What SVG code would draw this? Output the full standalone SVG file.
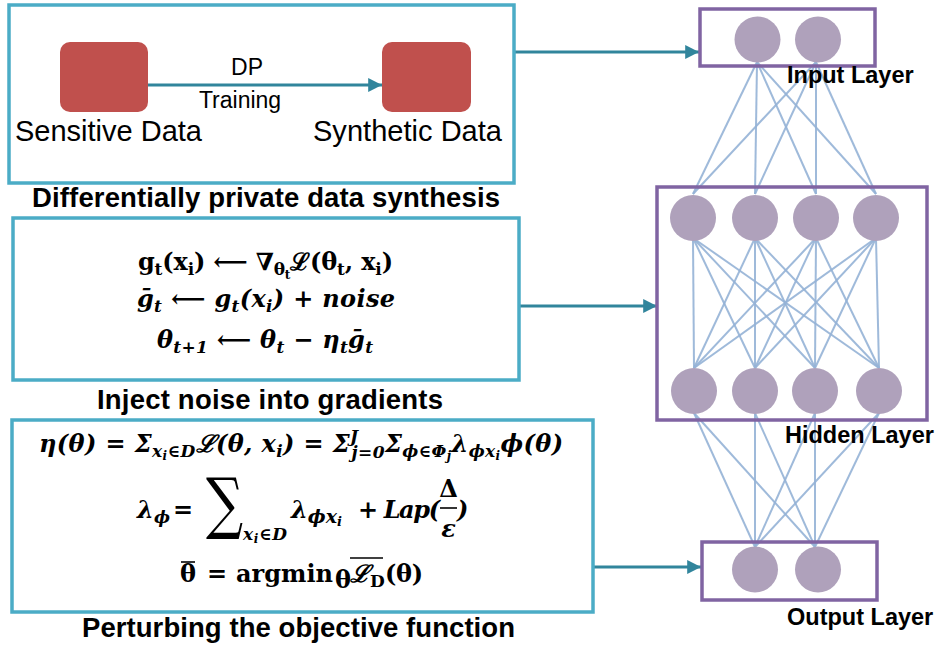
<svg xmlns="http://www.w3.org/2000/svg" width="938" height="646" viewBox="0 0 938 646">
<defs>
<marker id="ah" viewBox="0 0 10 10" refX="10" refY="5" markerWidth="5" markerHeight="4.6" markerUnits="strokeWidth" orient="auto">
<path d="M0,0 L10,5 L0,10 z" fill="#31859C"/>
</marker>
<style>
.panel{fill:none;stroke:#4BACC6;stroke-width:3.5}
.layer{fill:none;stroke:#8064A2;stroke-width:3.5}
.data{fill:#C0504D}
.neu{fill:#AFA1BB}
.edge{stroke:#95B3D7;stroke-width:2;opacity:0.9}
.conn{stroke:#31859C;stroke-width:3;fill:none}
.sans{font-family:"Liberation Sans",Arial,sans-serif;fill:#000}
.cap{font-family:"Liberation Sans",Arial,sans-serif;font-weight:bold;font-size:27.5px;fill:#000}
.lab{font-family:"Liberation Sans",Arial,sans-serif;font-weight:bold;font-size:23.5px;fill:#000}
.m{font-family:"DejaVu Serif",serif;font-weight:bold;font-size:24px;fill:#000}
.mi{font-family:"DejaVu Serif",serif;font-weight:bold;font-style:italic;font-size:24px;fill:#000}
.up{font-style:normal}
.sb{font-size:17px}
.ssb{font-size:12px}
.bar{stroke:#000;stroke-width:1.6}
</style>
</defs>

<g id="connectors">
<line class="conn" x1="148" y1="85" x2="382" y2="85" stroke-width="2.6" marker-end="url(#ah)"/>
<line class="conn" x1="515" y1="52" x2="699" y2="52" marker-end="url(#ah)"/>
<line class="conn" x1="519" y1="306" x2="657" y2="306" marker-end="url(#ah)"/>
<line class="conn" x1="593" y1="567" x2="701" y2="567" marker-end="url(#ah)"/>
<g class="edges">
<line class="edge" x1="757" y1="62" x2="693" y2="194"/>
<line class="edge" x1="757" y1="62" x2="755" y2="194"/>
<line class="edge" x1="757" y1="62" x2="816" y2="194"/>
<line class="edge" x1="757" y1="62" x2="876" y2="194"/>
<line class="edge" x1="816" y1="62" x2="693" y2="194"/>
<line class="edge" x1="816" y1="62" x2="755" y2="194"/>
<line class="edge" x1="816" y1="62" x2="816" y2="194"/>
<line class="edge" x1="816" y1="62" x2="876" y2="194"/>
<line class="edge" x1="693" y1="238" x2="694" y2="368"/>
<line class="edge" x1="693" y1="238" x2="755" y2="368"/>
<line class="edge" x1="693" y1="238" x2="815" y2="368"/>
<line class="edge" x1="693" y1="238" x2="879" y2="368"/>
<line class="edge" x1="755" y1="238" x2="694" y2="368"/>
<line class="edge" x1="755" y1="238" x2="755" y2="368"/>
<line class="edge" x1="755" y1="238" x2="815" y2="368"/>
<line class="edge" x1="755" y1="238" x2="879" y2="368"/>
<line class="edge" x1="816" y1="238" x2="694" y2="368"/>
<line class="edge" x1="816" y1="238" x2="755" y2="368"/>
<line class="edge" x1="816" y1="238" x2="815" y2="368"/>
<line class="edge" x1="816" y1="238" x2="879" y2="368"/>
<line class="edge" x1="876" y1="238" x2="694" y2="368"/>
<line class="edge" x1="876" y1="238" x2="755" y2="368"/>
<line class="edge" x1="876" y1="238" x2="815" y2="368"/>
<line class="edge" x1="876" y1="238" x2="879" y2="368"/>
<line class="edge" x1="694" y1="413" x2="755" y2="547"/>
<line class="edge" x1="694" y1="413" x2="815" y2="547"/>
<line class="edge" x1="755" y1="413" x2="755" y2="547"/>
<line class="edge" x1="755" y1="413" x2="815" y2="547"/>
<line class="edge" x1="815" y1="413" x2="755" y2="547"/>
<line class="edge" x1="815" y1="413" x2="815" y2="547"/>
<line class="edge" x1="879" y1="413" x2="755" y2="547"/>
<line class="edge" x1="879" y1="413" x2="815" y2="547"/>
</g>
</g>

<g id="panel-synthesis">
<rect class="panel" x="9" y="5" width="505" height="178"/>
<g id="sensitive-data">
<rect class="data" x="60" y="42" width="88" height="70" rx="10"/>
<text class="sans" x="15" y="141" font-size="29" textLength="187">Sensitive Data</text>
</g>
<g id="synthetic-data">
<rect class="data" x="382" y="42" width="89" height="70" rx="10"/>
<text class="sans" x="313" y="141" font-size="29" textLength="189">Synthetic Data</text>
</g>
<text class="sans" x="247" y="75" font-size="23" text-anchor="middle">DP</text>
<text class="sans" x="240" y="108" font-size="23" text-anchor="middle">Training</text>
<text class="cap" x="266" y="207" text-anchor="middle" textLength="468">Differentially private data synthesis</text>
</g>

<g id="panel-gradients">
<rect class="panel" x="13" y="218" width="506" height="162"/>
<text class="m" x="265.5" y="270" text-anchor="middle" textLength="255">g<tspan class="sb" dy="5">t</tspan><tspan dy="-5">(x</tspan><tspan class="sb" dy="5">i</tspan><tspan dy="-5">) ⟵ ∇</tspan><tspan class="sb" dy="5">θ</tspan><tspan class="ssb" dy="4">t</tspan><tspan dy="-9">ℒ(θ</tspan><tspan class="sb" dy="5">t</tspan><tspan dy="-5">, x</tspan><tspan class="sb" dy="5">i</tspan><tspan dy="-5">)</tspan></text>
<text class="mi" x="266" y="307" text-anchor="middle" textLength="258">ḡ<tspan class="sb" dy="5">t</tspan><tspan dy="-5"> ⟵ g</tspan><tspan class="sb" dy="5">t</tspan><tspan dy="-5">(x</tspan><tspan class="sb" dy="5">i</tspan><tspan dy="-5">) + noise</tspan></text>
<text class="mi" x="265" y="348" text-anchor="middle" textLength="216">θ<tspan class="sb" dy="5">t+1</tspan><tspan dy="-5"> ⟵ θ</tspan><tspan class="sb" dy="5">t</tspan><tspan dy="-5"> − η</tspan><tspan class="sb" dy="5">t</tspan><tspan dy="-5">ḡ</tspan><tspan class="sb" dy="5">t</tspan></text>
<text class="cap" x="270" y="409" text-anchor="middle" textLength="346">Inject noise into gradients</text>
</g>

<g id="panel-objective">
<rect class="panel" x="12" y="420" width="581" height="192"/>
<text class="mi" x="301" y="452" text-anchor="middle" textLength="524">η(θ) = Σ<tspan class="sb" dy="5">x</tspan><tspan class="ssb" dy="3">i</tspan><tspan class="sb" dy="-3">∈D</tspan><tspan dy="-5">ℒ(θ, x</tspan><tspan class="sb" dy="5">i</tspan><tspan dy="-5">) = Σ</tspan><tspan class="sb" dy="-10">J</tspan><tspan class="sb" dx="-7" dy="16">j=0</tspan><tspan dy="-6">Σ</tspan><tspan class="sb" dy="5">ϕ∈Φ</tspan><tspan class="ssb" dy="3">j</tspan><tspan dy="-8">λ</tspan><tspan class="sb" dy="5">ϕx</tspan><tspan class="ssb" dy="3">i</tspan><tspan dy="-8">ϕ(θ)</tspan></text>
<text class="mi" x="137" y="518" textLength="33">λ<tspan class="sb" dy="5">ϕ</tspan></text>
<text class="m" x="173" y="518">=</text>
<text transform="translate(206,526) scale(1,1.3)" font-family="DejaVu Serif,serif" font-size="52" fill="#000">∑</text>
<text class="mi" x="243" y="540" textLength="44"><tspan class="sb">x</tspan><tspan class="ssb" dy="3">i</tspan><tspan class="sb" dy="-3">∈D</tspan></text>
<text class="mi" x="291" y="518" font-size="26">λ<tspan font-size="19" dy="5">ϕx</tspan><tspan font-size="13" dy="3">i</tspan></text>
<text class="mi" x="358" y="518" textLength="82">+ Lap(</text>
<text class="m" x="448.5" y="497" text-anchor="middle">Δ</text>
<line class="bar" x1="440" y1="508" x2="457" y2="508"/>
<text class="mi" x="448.5" y="537" text-anchor="middle">ε</text>
<text class="mi" x="457" y="518">)</text>
<text class="m" x="180" y="582">θ</text>
<line class="bar" x1="181" y1="562" x2="195" y2="562"/>
<text class="m" x="207" y="582">=</text>
<text class="m" x="236" y="582" textLength="97">argmin</text>
<text class="m" x="335" y="588" font-size="15">θ</text>
<text class="mi" x="350" y="582">ℒ<tspan class="up sb" dy="5">D</tspan></text>
<line class="bar" x1="350" y1="558" x2="383" y2="558"/>
<text class="m" x="385" y="582" textLength="38">(θ)</text>
<text class="cap" x="298.5" y="637" text-anchor="middle" textLength="433">Perturbing the objective function</text>
</g>

<g id="input-layer">
<rect class="layer" x="700" y="9" width="175" height="57"/>
<circle class="neu" cx="757.5" cy="39.5" r="23"/>
<circle class="neu" cx="818" cy="39.5" r="23"/>
<text class="lab" x="787" y="83">Input Layer</text>
</g>

<g id="hidden-layer">
<rect class="layer" x="657" y="187" width="270" height="233"/>
<circle class="neu" cx="693" cy="218" r="23"/>
<circle class="neu" cx="755" cy="218" r="23"/>
<circle class="neu" cx="816" cy="218" r="23"/>
<circle class="neu" cx="876" cy="218" r="23"/>
<circle class="neu" cx="694" cy="391" r="23"/>
<circle class="neu" cx="755" cy="391" r="23"/>
<circle class="neu" cx="815" cy="391" r="23"/>
<circle class="neu" cx="879" cy="391" r="23"/>
<text class="lab" x="785" y="443">Hidden Layer</text>
</g>

<g id="output-layer">
<rect class="layer" x="702" y="542" width="175" height="58"/>
<circle class="neu" cx="755" cy="569.5" r="23"/>
<circle class="neu" cx="818" cy="569.5" r="23"/>
<text class="lab" x="787" y="625">Output Layer</text>
</g>
</svg>
